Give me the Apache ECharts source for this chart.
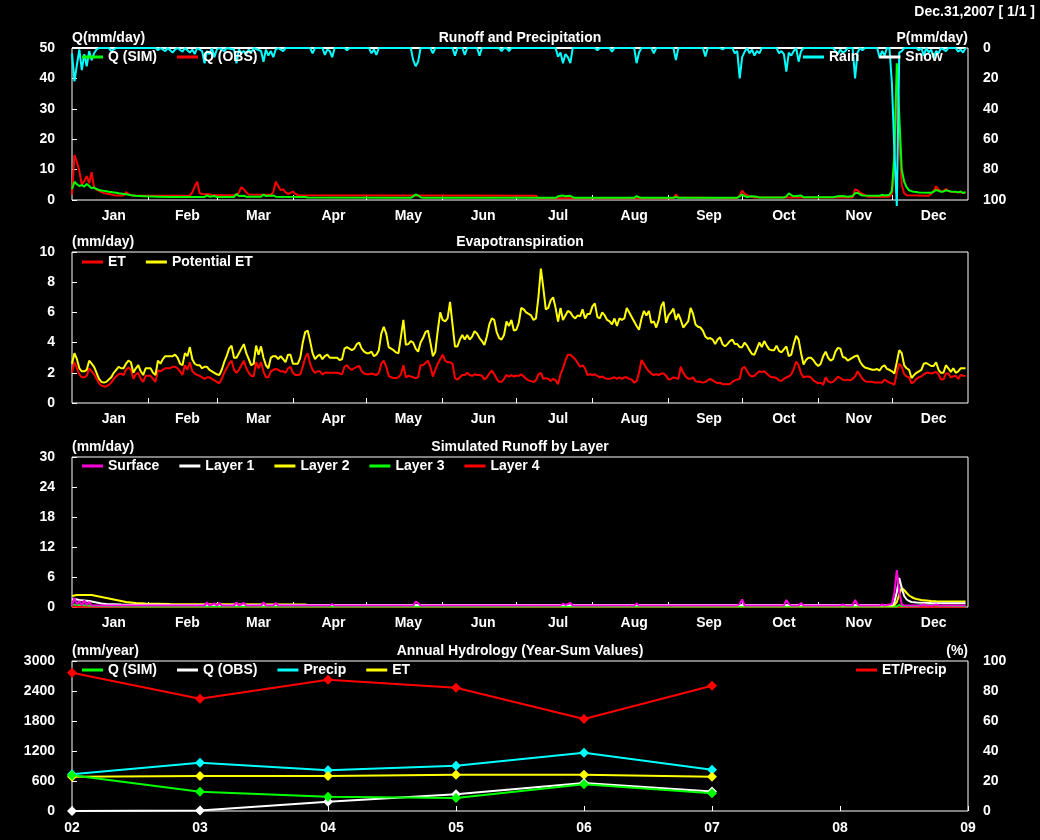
<!DOCTYPE html>
<html>
<head>
<meta charset="utf-8">
<title>Runoff and Precipitation</title>
<script src="https://cdn.jsdelivr.net/npm/echarts@6/dist/echarts.min.js"></script>
<style>
html,body{margin:0;padding:0;background:#000;}
#chart{width:1040px;height:840px;}
</style>
</head>
<body>
<div id="chart"></div>
<script>
// month axis
var monthNames = ['Jan','Feb','Mar','Apr','May','Jun','Jul','Aug','Sep','Oct','Nov','Dec'];
var monthEnds = [31,59,90,120,151,181,212,243,273,304,334];
var monthLabelDays = [17,47,76,106.5,137,167.5,198,229,259.5,290,320.5,351];

// daily runoff, mm/day  [day, value]
var qSim = [[0,3.6],[1,6.0],[2,5.2],[3,4.6],[4,4.9],[5,4.4],[6,5.3],[7,4.6],[8,3.9],[9,4.1],[10,3.6],
  [11,3.3],[12,3.1],[13,3.0],[14,2.9],[15,2.7],[16,2.6],[17,2.5],[18,2.4],[19,2.2],[20,2.1],
  [21,2.0],[22,1.9],[23,1.7],[24,1.6],[25,1.5],[26,1.4],[27,1.35],[28,1.3],[29,1.25],[30,1.2],
  [35,1.1],[40,1.0],[54,1.0],[55,1.5],[56,1.1],[58,1.3],[59,1.0],[66,1.0],[67,2.0],[68,1.3],[70,1.4],[71,1.1],
  [77,1.1],[78,1.8],[79,1.3],[82,1.5],[83,1.1],[95,1.0],[96,0.8],[138,0.7],[139,1.2],[140,1.8],[141,1.5],
  [142,0.9],[143,0.7],[197,0.7],[198,1.2],[200,1.5],[201,1.2],[203,1.4],[204,0.9],[205,0.7],[229,0.7],
  [230,1.3],[231,0.9],[232,0.7],[245,0.7],[246,1.0],[247,0.7],[271,0.7],[272,1.2],[273,1.8],[274,1.3],
  [275,1.0],[277,1.2],[279,1.1],[280,0.8],[290,0.8],[291,1.2],[292,2.2],[293,1.6],[294,1.2],[297,1.5],
  [298,0.9],[310,0.9],[312,1.2],[314,1.3],[316,1.1],[318,1.3],[319,2.2],[320,2.4],[321,1.8],[322,1.5],
  [329,1.4],[330,1.7],[331,1.5],[332,1.6],[333,1.7],[334,3.0],[335,15],[336,45],[337,28],[338,10],
  [339,6.0],[340,4.2],[341,3.2],[342,2.9],[343,2.7],[344,2.6],[345,2.5],[350,2.4],[351,2.7],[352,3.3],
  [353,3.0],[354,2.7],[355,2.8],[356,3.2],[357,3.0],[358,2.8],[360,2.7],[361,2.5],[362,2.8],[363,2.3],[364,2.6]];
var qObs = [[0,1.8],[1,14.8],[2,12.5],[3,9.5],[4,5.0],[5,6.2],[6,7.9],[7,5.5],[8,9.2],[9,4.0],[10,3.4],
  [11,3.0],[12,2.6],[13,2.3],[14,2.1],[15,2.0],[16,1.8],[17,1.6],[18,1.5],[21,1.5],[22,2.6],[23,2.0],
  [24,1.6],[25,1.4],[30,1.4],[48,1.5],[49,2.5],[50,4.5],[51,6.0],[52,2.2],[53,2.0],[56,1.9],[57,1.6],
  [67,1.6],[68,2.5],[69,4.2],[70,3.5],[71,2.5],[72,1.8],[81,1.7],[82,2.6],[83,6.0],[84,4.6],[85,3.2],
  [86,3.6],[87,2.5],[88,2.0],[89,2.3],[90,2.8],[91,2.0],[92,1.6],[110,1.5],[140,1.5],[189,1.4],[190,0.6],
  [245,0.6],[246,1.8],[247,0.8],[271,0.6],[272,1.5],[273,3.1],[274,2.0],[275,1.6],[276,1.2],[278,0.8],
  [318,0.8],[319,3.5],[320,3.2],[321,2.4],[322,2.0],[323,1.6],[324,1.1],[333,1.1],[334,2.0],[335,10],
  [336,35],[337,20],[338,5.0],[339,2.2],[340,1.6],[349,1.4],[350,2.0],[351,3.0],[352,4.5],[353,3.5],
  [354,2.8],[355,3.0],[356,3.6],[357,3.0],[358,2.7],[359,2.6],[364,2.4]];

// daily precipitation, mm/day  [day, value]
var rain = [[0,3.5],[1,22],[2,11],[3,1],[4,14.5],[5,4],[6,12],[7,2],[8,8],[9,3.5],[10,1],[11,0],[15,0],
  [16,2],[17,1],[18,0],[34,0],[35,1.5],[36,0],[38,2],[39,0],[41,3],[42,1],[43,0],[45,2.5],[46,0],[48,3],
  [49,1],[50,4],[51,0],[53,2],[54,10],[55,2],[56,4],[57,0],[58,6],[59,1],[60,0],[62,2],[63,0],[66,1],
  [67,10],[68,1],[69,3.5],[70,2],[71,4],[72,1],[73,3],[74,0],[77,2],[78,9],[79,1],[80,5],[81,2],[82,6],
  [83,1],[84,0],[86,2],[87,0],[97,0],[98,3.5],[99,0],[102,0],[103,4.5],[104,1],[105,2],[106,6],[107,0],
  [111,0],[112,1.5],[113,0],[121,0],[122,3.5],[123,1],[124,4.5],[125,0],[138,0],[139,8],[140,12],[141,9],
  [142,0],[146,0],[147,3.5],[148,0],[155,0],[156,5],[157,0],[159,0],[160,4.5],[161,0],[165,0],[166,5],
  [167,0],[174,0],[175,2],[176,0],[177,0],[178,2],[179,0],[197,0],[198,5.7],[199,3],[200,10],[201,4],
  [202,6],[203,10],[204,0],[213,0],[214,1.5],[215,0],[219,0],[220,2.5],[221,0],[229,0],[230,10],[231,3],
  [232,0],[236,0],[237,3.5],[238,0],[245,0],[246,8],[247,0],[257,0],[258,5.5],[259,0],[264,0],[265,1],
  [266,0],[269,0],[270,3.5],[271,2],[272,20],[273,6],[274,2.5],[275,0],[276,3.5],[277,1],[278,5],[279,2],
  [280,3.5],[281,0],[287,0],[288,3.5],[289,2],[290,4],[291,15.5],[292,3],[293,5],[294,2],[295,0],[296,9],
  [297,2],[298,0],[310,0],[311,2],[312,4],[313,1],[314,3],[315,2],[316,0],[318,0],[319,20],[320,3],[321,0],
  [322,1.5],[323,0],[328,0],[329,6.5],[330,2],[331,5],[332,0],[333,0],[334,23],[335,67],[336,104],[337,3],
  [338,2],[339,0],[344,0],[345,1.5],[346,0],[347,5],[348,0],[349,3],[350,1],[351,6.5],[352,2],[353,3.5],
  [354,0],[356,2],[357,0],[360,0],[361,2.5],[362,1],[363,3],[364,0]];
var snow = [[0,0],[364,0]];

// daily evapotranspiration, mm/day, one value per day from Jan 1
var etDaily = [
  2.0,2.7,2.3,1.9,1.7,1.7,1.8,2.3,2.1,1.9, 1.6,1.3,1.15,1.1,1.1,1.2,1.35,1.6,1.75,1.9,
  1.95,1.85,2.2,2.35,2.2,1.6,1.9,2.0,1.6,1.4, 1.8,1.8,1.8,1.6,1.4,2.15,2.1,2.2,2.3,2.3,
  2.3,2.4,2.4,2.3,2.1,1.85,2.5,2.2,2.7,2.1, 1.95,1.85,1.8,1.7,1.6,1.7,1.7,1.6,1.5,1.4,
  1.3,1.6,2.0,2.3,2.6,2.8,2.2,2.0,2.2,2.5, 2.8,2.3,2.0,1.8,1.75,2.7,2.3,2.7,2.1,1.7,
  1.7,2.1,2.2,2.25,2.2,2.1,2.1,2.0,2.3,2.4, 2.0,1.85,1.85,1.9,2.4,3.0,3.3,2.6,2.2,2.0,
  2.1,2.1,1.9,2.0,2.0,2.0,2.0,2.0,2.0,1.95, 1.9,2.4,2.5,2.3,2.2,2.3,2.4,2.45,2.1,1.95,
  1.9,1.9,1.95,1.9,1.85,2.0,2.6,2.8,2.4,1.8, 1.7,1.65,1.65,1.7,1.9,2.5,1.7,1.8,1.75,1.7,
  1.65,1.7,2.5,2.5,2.65,2.8,2.4,1.75,2.2,2.6, 2.9,3.2,2.8,2.7,2.7,2.6,1.65,1.55,1.7,1.85,
  1.85,2.0,1.85,1.8,1.9,1.85,1.85,1.8,1.55,1.7, 1.95,2.15,1.9,1.6,1.4,1.4,1.6,1.85,1.75,1.85,
  1.75,1.8,1.8,1.9,1.75,1.6,1.5,1.45,1.4,1.5, 1.9,2.0,1.6,1.65,1.6,1.45,1.6,1.5,1.25,1.9,
  2.3,2.8,3.2,3.2,3.05,2.9,2.65,2.4,2.5,2.3, 1.85,1.9,1.85,1.9,1.8,1.7,1.75,1.65,1.6,1.6,
  1.65,1.7,1.6,1.7,1.6,1.7,1.7,1.6,1.55,1.35, 1.45,2.0,2.85,2.6,2.3,2.1,1.95,1.85,1.9,1.85,
  1.95,1.95,1.8,1.55,1.6,1.7,1.65,1.6,2.4,2.0, 1.75,1.6,1.6,1.7,1.45,1.4,1.4,1.35,1.4,1.5,
  1.6,1.5,1.4,1.3,1.35,1.25,1.25,1.25,1.25,1.4, 1.5,1.55,1.6,2.3,2.4,2.1,1.85,1.75,1.8,1.95,
  2.1,2.05,2.1,1.95,1.8,1.7,1.7,1.65,1.5,1.45, 1.6,1.7,1.75,1.9,2.25,2.75,2.5,1.95,1.7,1.75,
  1.75,1.7,1.5,1.4,1.3,1.35,1.2,1.7,1.45,1.35, 1.4,1.55,1.75,1.65,1.55,1.5,1.55,1.5,1.6,1.75,
  2.1,1.85,1.6,1.45,1.4,1.4,1.4,1.35,1.35,1.35, 1.35,1.55,1.45,1.35,1.3,1.2,2.0,2.6,2.4,1.9,
  1.75,1.7,1.3,1.4,1.6,1.7,1.75,1.9,2.0,2.0, 1.95,2.0,2.05,1.9,1.55,1.55,1.95,1.95,1.7,1.75,
  1.8,1.6,1.85,1.8,1.8];
var petDaily = [
  2.6,3.3,2.9,2.3,2.1,2.1,2.2,2.8,2.6,2.4, 2.0,1.6,1.4,1.35,1.4,1.55,1.7,2.0,2.2,2.4,
  2.3,2.3,2.6,2.8,2.7,2.0,2.3,2.5,2.1,1.85, 2.3,2.3,2.3,2.0,1.85,2.8,2.6,2.9,3.1,3.1,
  3.1,3.1,3.2,3.0,2.6,2.5,3.3,3.1,3.7,2.9, 2.6,2.5,2.5,2.3,2.4,2.4,2.2,2.1,2.0,1.9,
  1.85,2.2,2.7,3.1,3.6,3.8,3.0,3.0,3.3,3.6, 3.9,3.3,2.9,2.5,2.6,3.8,3.2,3.75,3.0,2.5,
  2.3,3.0,3.1,3.1,2.9,3.1,2.9,2.7,3.2,3.2, 2.6,2.6,2.6,3.0,4.0,4.7,4.8,4.1,3.3,2.9,
  3.1,3.2,2.9,3.1,3.2,3.0,3.0,3.0,3.0,2.85, 2.9,3.6,3.7,3.6,3.5,3.6,3.9,4.0,3.6,3.4,
  3.3,3.3,3.4,3.1,3.2,3.5,4.6,5.05,4.6,3.7, 3.6,3.5,3.35,3.3,4.4,5.5,3.85,3.9,4.1,4.0,
  3.6,3.4,4.0,4.3,4.7,4.8,4.0,3.1,3.4,4.8, 6.0,5.5,5.4,5.6,6.7,5.2,3.75,3.75,4.2,4.5,
  4.2,4.5,4.2,4.4,4.75,4.6,4.3,4.1,3.85,4.4, 5.2,5.6,5.5,4.7,4.3,4.2,4.5,5.4,5.1,5.5,
  4.8,4.85,5.3,6.3,6.2,6.0,5.9,5.8,5.5,5.6, 7.0,8.9,7.6,6.2,6.3,6.8,7.0,6.3,5.4,6.3,
  5.5,5.8,6.1,6.0,5.75,5.6,5.8,5.75,6.2,5.6, 5.9,5.9,6.4,6.6,5.7,5.6,6.0,5.8,5.5,5.4,
  5.2,5.6,5.1,5.6,5.5,5.6,6.3,6.0,5.7,5.4, 5.1,4.85,5.6,6.1,5.8,6.1,5.3,5.4,5.0,5.5,
  6.4,6.7,5.3,5.8,6.0,6.25,5.5,5.9,5.5,5.0, 5.2,5.4,6.3,5.9,5.2,5.05,5.0,4.8,4.4,4.25,
  4.3,4.2,3.9,4.2,4.35,3.9,3.75,3.9,4.1,4.2, 3.9,3.9,3.7,3.7,4.0,3.8,3.5,3.25,3.2,3.6,
  4.0,3.7,4.1,3.8,3.55,3.5,3.5,3.8,3.45,3.35, 3.55,3.75,3.1,3.2,3.9,4.45,4.2,3.3,2.55,2.85,
  3.0,3.0,2.85,2.6,2.45,2.6,3.1,3.4,3.0,2.8, 2.9,3.4,3.65,3.6,3.05,3.0,2.8,2.9,3.0,3.1,
  3.15,2.75,2.5,2.35,2.3,2.25,2.2,2.2,2.25,2.15, 2.4,2.5,2.25,2.2,2.1,1.95,2.7,3.5,3.3,2.5,
  2.3,2.2,1.65,1.85,2.0,2.1,2.2,2.6,2.65,2.55, 2.45,2.45,2.7,2.2,2.0,2.0,2.5,2.3,2.05,2.3,
  2.0,2.1,2.3,2.3,2.3];

// simulated runoff by layer, mm/day  [day, value]
var surface = [[0,0.3],[1,1.8],[2,0.5],[3,1.2],[4,0.3],[5,1.3],[6,0.4],[7,1.0],[8,0.3],[54,0.3],[55,0.9],
  [56,0.3],[58,0.7],[59,0.3],[60,0.8],[61,0.3],[66,0.3],[67,0.9],[68,0.3],[70,0.8],[71,0.3],[77,0.3],
  [78,0.9],[79,0.3],[82,0.3],[83,0.8],[84,0.3],[105,0.3],[106,0.6],[107,0.3],[139,0.3],[140,1.1],[141,0.8],
  [142,0.3],[199,0.3],[200,0.7],[201,0.4],[203,0.8],[204,0.3],[229,0.3],[230,0.7],[231,0.3],[271,0.3],
  [272,0.6],[273,1.5],[274,0.3],[290,0.3],[291,1.4],[292,0.6],[293,0.3],[296,0.3],[297,0.8],[298,0.3],
  [313,0.3],[314,0.5],[315,0.3],[318,0.3],[319,1.4],[320,0.5],[321,0.3],[329,0.3],[330,0.5],[331,0.3],
  [334,0.6],[335,2.8],[336,7.4],[337,3.0],[338,0.5],[339,0.3],[346,0.3],[347,0.5],[348,0.3],[351,0.3],
  [352,0.5],[353,0.3],[364,0.3]];
var layer1 = [[0,1.5],[1,1.6],[2,1.5],[3,1.4],[5,1.3],[7,1.2],[8,1.1],[9,1.0],[10,0.9],[11,0.8],[12,0.7],
  [14,0.6],[20,0.5],[40,0.45],[100,0.4],[334,0.4],[335,0.9],[336,3.0],[337,5.8],[338,3.8],[339,2.2],
  [340,1.5],[341,1.2],[342,1.0],[344,0.9],[350,0.8],[364,0.75]];
var layer2 = [[0,2.2],[1,2.3],[2,2.4],[8,2.4],[9,2.3],[10,2.2],[11,2.1],[12,2.0],[13,1.9],[14,1.8],[15,1.7],
  [16,1.6],[17,1.5],[18,1.4],[19,1.3],[20,1.2],[21,1.1],[22,1.0],[23,0.95],[24,0.9],[26,0.8],[28,0.75],
  [30,0.7],[40,0.6],[60,0.55],[95,0.5],[96,0.4],[320,0.35],[334,0.3],[335,0.4],[336,1.0],[337,2.5],
  [338,3.8],[339,3.4],[340,2.8],[341,2.3],[342,2.0],[343,1.75],[344,1.6],[345,1.5],[346,1.4],[347,1.35],
  [348,1.3],[350,1.2],[352,1.15],[364,1.1]];
var layer3 = [[0,0.5],[3,0.4],[10,0.2],[30,0.1],[336,0.1],[337,0.4],[338,0.2],[344,0.2],[346,0.4],
  [348,0.3],[350,0.5],[352,0.3],[364,0.2]];
var layer4 = [[0,0.05],[364,0.05]];

// annual sums
var years = [2002,2003,2004,2005,2006,2007];
var annQSim = [713,387,287,260,533,353];
var annQObs = [0,8,187,333,560,390];
var annPrecip = [734,967,813,907,1167,827];
var annET = [687,700,700,727,727,687];
var annRatio = [92.2,74.9,87.5,82.2,61.3,83.5];

var FONT = 'Liberation Sans';
function txt(extra){
  var s = {color:'#fff', fontFamily:FONT, fontWeight:'bold', fontSize:14};
  for (var k in extra) s[k] = extra[k];
  return s;
}
function pairs(arr){ return arr.map(function(v,i){ return [i,v]; }); }
function byYear(arr){ return arr.map(function(v,i){ return [years[i],v]; }); }

function dayAxis(g){
  return {
    type:'value', gridIndex:g, min:0, max:365,
    axisLine:{show:false}, splitLine:{show:false},
    axisTick:{show:true, inside:true, length:5, customValues:monthEnds, lineStyle:{color:'#fff', width:1}},
    axisLabel:txt({margin:9, customValues:monthLabelDays, formatter:function(v){
      return monthNames[monthLabelDays.indexOf(v)] || '';
    }})
  };
}
function valAxis(g, max, interval, pos, opts){
  var a = {
    type:'value', gridIndex:g, min:0, max:max, interval:interval, position:pos,
    axisLine:{show:false}, splitLine:{show:false},
    axisTick:{show:pos === 'left', inside:true, length:5, lineStyle:{color:'#fff', width:1}},
    axisLabel:txt({margin:pos === 'left' ? 17 : 15, showMinLabel:true, showMaxLabel:true,
      formatter:function(v){ return String(v); }})
  };
  for (var k in opts) a[k] = opts[k];
  return a;
}
function grid(top, h){
  return {left:72, top:top, width:896, height:h, show:true, borderColor:'#fff', borderWidth:1,
    backgroundColor:'transparent', containLabel:false, outerBoundsMode:'none'};
}
function legend(names, left, cy){
  return {
    data:names, left:left, top:cy - 8, padding:0, orient:'horizontal',
    icon:'rect', itemWidth:21, itemHeight:3, itemGap:20, selectedMode:false,
    textStyle:txt({lineHeight:16}),
    formatter:function(n){ return n.trim(); }
  };
}
function line(name, color, data, xi, yi, extra){
  var s = {
    name:name, type:'line', xAxisIndex:xi, yAxisIndex:yi, data:data,
    symbol:'none', color:color, lineStyle:{color:color, width:2},
    emphasis:{disabled:true}, silent:true, animation:false
  };
  for (var k in extra) s[k] = extra[k];
  return s;
}
function yearLine(name, color, data, yi){
  return line(name, color, byYear(data), 3, yi, {
    symbol:'diamond', symbolSize:10, showSymbol:true, itemStyle:{color:color}
  });
}
function label(text, x, y, align){
  return {type:'text', x:x, y:y, silent:true,
    style:{text:text, fill:'#fff', font:'bold 14px "' + FONT + '"', textAlign:align, textVerticalAlign:'middle'}};
}

var chart = echarts.init(document.getElementById('chart'));
chart.setOption({
  backgroundColor:'#000',
  animation:false,
  grid:[grid(48,152), grid(252,151), grid(457,150), grid(661,150)],
  xAxis:[
    dayAxis(0), dayAxis(1), dayAxis(2),
    {type:'value', gridIndex:3, min:2002, max:2009, interval:1,
      axisLine:{show:false}, splitLine:{show:false},
      axisTick:{show:true, inside:true, length:5, lineStyle:{color:'#fff'}},
      axisLabel:txt({margin:10, formatter:function(v){ return String(v).slice(2); }})}
  ],
  yAxis:[
    valAxis(0, 50, 10, 'left'),
    valAxis(0, 100, 20, 'right', {inverse:true}),
    valAxis(1, 10, 2, 'left'),
    valAxis(2, 30, 6, 'left'),
    valAxis(3, 3000, 600, 'left'),
    valAxis(3, 100, 20, 'right')
  ],
  legend:[
    legend(['Q (SIM)','Q (OBS)'], 82, 57),
    legend(['Rain','Snow'], 803, 57),
    legend(['ET','Potential ET'], 82, 262),
    legend(['Surface','Layer 1','Layer 2','Layer 3','Layer 4'], 82, 466),
    legend(['Q (SIM) ','Q (OBS) ','Precip','ET '], 82, 670),
    legend(['ET/Precip'], 856, 670)
  ],
  graphic:[
    label('Dec.31,2007 [ 1/1 ]', 1035, 12, 'right'),
    label('Q(mm/day)', 72, 38, 'left'),
    label('Runoff and Precipitation', 520, 38, 'center'),
    label('P(mm/day)', 968, 38, 'right'),
    label('(mm/day)', 72, 242, 'left'),
    label('Evapotranspiration', 520, 242, 'center'),
    label('(mm/day)', 72, 447, 'left'),
    label('Simulated Runoff by Layer', 520, 447, 'center'),
    label('(mm/year)', 72, 651, 'left'),
    label('Annual Hydrology (Year-Sum Values)', 520, 651, 'center'),
    label('(%)', 968, 651, 'right')
  ],
  series:[
    line('Q (OBS)', '#ff0000', qObs, 0, 0),
    line('Q (SIM)', '#00ff00', qSim, 0, 0),
    line('Snow', '#ffffff', snow, 0, 1),
    line('Rain', '#00ffff', rain, 0, 1, {clip:false}),

    line('ET', '#ff0000', pairs(etDaily), 1, 2),
    line('Potential ET', '#ffff00', pairs(petDaily), 1, 2),

    line('Layer 4', '#ff0000', layer4, 2, 3),
    line('Layer 3', '#00ff00', layer3, 2, 3),
    line('Layer 2', '#ffff00', layer2, 2, 3),
    line('Layer 1', '#ffffff', layer1, 2, 3),
    line('Surface', '#ff00dc', surface, 2, 3),

    yearLine('ET/Precip', '#ff0000', annRatio, 5),
    yearLine('Precip', '#00ffff', annPrecip, 4),
    yearLine('ET ', '#ffff00', annET, 4),
    yearLine('Q (OBS) ', '#ffffff', annQObs, 4),
    yearLine('Q (SIM) ', '#00ff00', annQSim, 4)
  ]
});
</script>
</body>
</html>
